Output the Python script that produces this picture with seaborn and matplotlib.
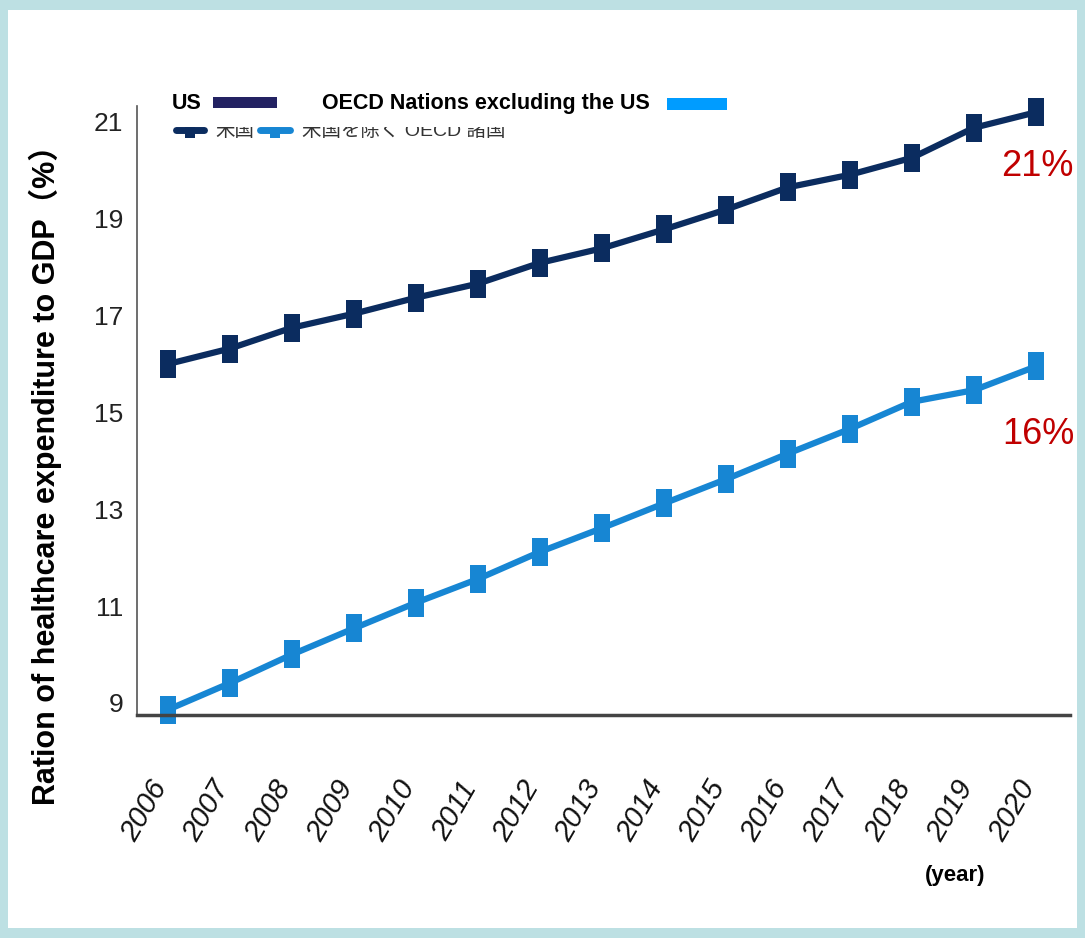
import numpy as np
import pandas as pd
import seaborn as sns
import matplotlib.pyplot as plt
from matplotlib.patches import Rectangle
from matplotlib.transforms import ScaledTranslation

# Data
years = list(range(2006, 2021))
us_share = [16.0, 16.32, 16.75, 17.04, 17.37, 17.66, 18.09, 18.39, 18.78, 19.19,
            19.65, 19.91, 20.26, 20.88, 21.2]
oecd_share = [8.86, 9.41, 10.0, 10.54, 11.07, 11.56, 12.12, 12.61, 13.12, 13.62,
              14.15, 14.66, 15.22, 15.46, 15.95]
series_names = ["US", "OECD Nations excluding the US"]
jp_names = ["米国", "米国を除く OECD 諸国"]
end_labels = ["21%", "16%"]
y_ticks = [9, 11, 13, 15, 17, 19, 21]

df = pd.DataFrame({
    "year": years * 2,
    "share": us_share + oecd_share,
    "series": [series_names[0]] * len(years) + [series_names[1]] * len(years),
})

sns.set_theme(style="white")
plt.rcParams['font.family'] = ['Liberation Sans', 'Noto Sans CJK JP', 'DejaVu Sans']

W, H = 1085, 938
fig = plt.figure(figsize=(W / 100, H / 100), dpi=100)
fig.patch.set_facecolor("#bde0e3")


def fx(x):
    return x / W


def fy(y):
    return 1 - y / H


# white inner panel
fig.patches.append(Rectangle((fx(8), fy(928)), fx(1077) - fx(8), fy(10) - fy(928),
                             transform=fig.transFigure, facecolor="white",
                             edgecolor="none", zorder=-10))

ax = fig.add_axes([fx(137), fy(715), fx(1070) - fx(137), fy(106) - fy(715)])
ax.set_facecolor("none")
ax.set_zorder(1)

navy = "#0b2c5f"
blue = "#1786d3"
rect_marker = [(-0.6, -1), (0.6, -1), (0.6, 1), (-0.6, 1), (-0.6, -1)]

sns.lineplot(data=df, x="year", y="share", hue="series",
             palette={series_names[0]: navy, series_names[1]: blue},
             marker=rect_marker, markersize=20, markeredgewidth=0,
             linewidth=4.5, legend=False, ax=ax)
for ln in ax.lines:
    ln.set_clip_on(False)

ax.set_xlim(2005.5, 2020.55)
ax.set_ylim(8.75, 21.33)
ax.set_yticks(y_ticks)
ax.set_yticklabels([str(t) for t in y_ticks], fontsize=19, color="#222222")
ax.set_xticks(years)
ax.set_xticklabels([str(y) for y in years], rotation=60, ha="right", va="center",
                   rotation_mode="anchor", fontsize=21, color="#111111",
                   fontstyle="italic")
ax.tick_params(axis="x", pad=49, length=0)
ax.tick_params(axis="y", pad=10, length=0)
shift = ScaledTranslation(-7 / 100, 0, fig.dpi_scale_trans)
for lbl in ax.get_xticklabels():
    lbl.set_transform(lbl.get_transform() + shift)
ax.set_xlabel("")
ax.set_ylabel("")
for s in ["top", "right"]:
    ax.spines[s].set_visible(False)
ax.spines["left"].set_color("#555555")
ax.spines["left"].set_linewidth(1.2)
ax.spines["bottom"].set_color("#444444")
ax.spines["bottom"].set_linewidth(2.5)

# end-point labels
ax.annotate(end_labels[0], xy=(years[-1], us_share[-1]), xytext=(1, -54),
            textcoords="offset pixels", ha="center", va="center",
            fontsize=26, color="#c00000", annotation_clip=False)
ax.annotate(end_labels[1], xy=(years[-1], oecd_share[-1]), xytext=(2, -68),
            textcoords="offset pixels", ha="center", va="center",
            fontsize=26, color="#c00000", annotation_clip=False)

# y label
fig.text(fx(45), fy(468), "Ration of healthcare expenditure to GDP（%）",
         rotation=90, ha="center", va="center", fontsize=22,
         fontweight="bold", color="black")

# year label
fig.text(fx(955), fy(875), "(year)", ha="center", va="center",
         fontsize=16, fontweight="bold", color="black")

# original japanese legend (partly hidden under the english one)
for x0, x1, c in [(176, 204, navy), (260, 290, blue)]:
    fig.add_artist(plt.Line2D([fx(x0), fx(x1)], [fy(130), fy(130)], color=c,
                              linewidth=5, transform=fig.transFigure, zorder=3))
    fig.add_artist(plt.Line2D([fx((x0 + x1) / 2)], [fy(130)], color=c,
                              marker=rect_marker, markersize=12, markeredgewidth=0,
                              transform=fig.transFigure, zorder=3))
fig.text(fx(215), fy(131), jp_names[0], fontsize=14, color="#333333",
         va="center", ha="left", zorder=3)
fig.text(fx(302), fy(131), jp_names[1], fontsize=14, color="#333333",
         va="center", ha="left", zorder=3)

# english legend on a white strip
fig.patches.append(Rectangle((fx(160), fy(127)), fx(740) - fx(160), fy(85) - fy(127),
                             transform=fig.transFigure, facecolor="white",
                             edgecolor="none", zorder=4))
fig.text(fx(172), fy(103), series_names[0], fontsize=15.5, fontweight="bold",
         va="center", ha="left", zorder=5, color="black")
fig.patches.append(Rectangle((fx(213), fy(108)), fx(277) - fx(213), fy(97) - fy(108),
                             transform=fig.transFigure, facecolor="#232262",
                             edgecolor="none", zorder=5))
fig.text(fx(322), fy(103), series_names[1], fontsize=15.5, fontweight="bold",
         va="center", ha="left", zorder=5, color="black")
fig.patches.append(Rectangle((fx(667), fy(110)), fx(727) - fx(667), fy(98) - fy(110),
                             transform=fig.transFigure, facecolor="#009cff",
                             edgecolor="none", zorder=5))

fig.savefig("out.png", dpi=100, facecolor=fig.get_facecolor())
